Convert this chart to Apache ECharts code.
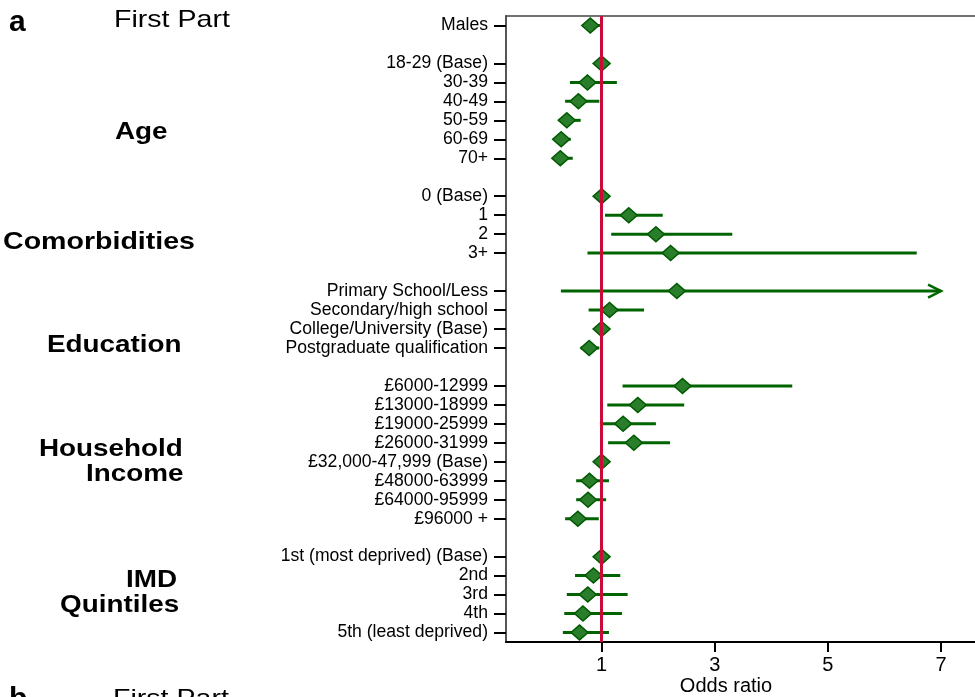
<!DOCTYPE html>
<html>
<head>
<meta charset="utf-8">
<script src="https://cdn.jsdelivr.net/npm/echarts@6/dist/echarts.min.js"></script>
<style>
html,body{margin:0;padding:0;background:#fff;}
#chart{width:975px;height:697px;}
</style>
</head>
<body>
<div id="chart"></div>
<script>
// ---- data (top to bottom) ----
const categories = [
  'Males', '',
  '18-29 (Base)', '30-39', '40-49', '50-59', '60-69', '70+', '',
  '0 (Base)', '1', '2', '3+', '',
  'Primary School/Less', 'Secondary/high school', 'College/University (Base)', 'Postgraduate qualification', '',
  '£6000-12999', '£13000-18999', '£19000-25999', '£26000-31999', '£32,000-47,999 (Base)', '£48000-63999', '£64000-95999', '£96000 +', '',
  '1st (most deprived) (Base)', '2nd', '3rd', '4th', '5th (least deprived)'
];
const oddsRatio = [
  0.80, null,
  1.00, 0.75, 0.59, 0.385, 0.285, 0.27, null,
  1.00, 1.48, 1.96, 2.22, null,
  2.33, 1.14, 1.00, 0.78, null,
  2.43, 1.64, 1.38, 1.57, 1.00, 0.785, 0.76, 0.58, null,
  1.00, 0.855, 0.755, 0.67, 0.61
];
const ciLower = [
  0.66, null,
  null, 0.44, 0.355, 0.24, 0.18, 0.15, null,
  null, 1.06, 1.17, 0.75, null,
  0.28, 0.77, null, 0.63, null,
  1.37, 1.10, 0.97, 1.115, null, 0.55, 0.55, 0.355, null,
  null, 0.53, 0.385, 0.34, 0.315
];
const ciUpper = [
  0.97, null,
  null, 1.27, 0.96, 0.63, 0.455, 0.49, null,
  null, 2.08, 3.31, 6.57, null,
  7.0, 1.75, null, 0.96, null,
  4.37, 2.46, 1.96, 2.21, null, 1.13, 1.08, 0.95, null,
  null, 1.33, 1.46, 1.36, 1.13
];
const clippedRows = ['Primary School/Less'];   // upper CI beyond the axis (drawn with arrow)
const xTicks = [1, 3, 5, 7];
const referenceValue = 1;

// unique blank names for spacer rows
let blankCount = 0;
const axisCats = categories.map(c => c === '' ? ' '.repeat(++blankCount) : c);

const pointData = [];
const ciData = [];
categories.forEach((c, i) => {
  if (oddsRatio[i] != null) pointData.push([oddsRatio[i], i]);
  if (ciLower[i] != null && ciUpper[i] != null) {
    ciData.push([i, ciLower[i], ciUpper[i], clippedRows.includes(c) ? 1 : 0]);
  }
});

const GREEN = '#006400';
const FONT = '"Liberation Sans", Arial, sans-serif';
const X_MIN = -0.69, X_MAX = 7.6;

const chart = echarts.init(document.getElementById('chart'), null, {renderer: 'canvas'});

function sideText(text, x, y, opts) {
  return {
    type: 'text', x: x, y: y, scaleX: opts.scaleX || 1,
    style: {
      text: text, fill: '#000',
      font: (opts.bold ? 'bold ' : '') + opts.size + 'px ' + FONT,
      textAlign: 'left', textVerticalAlign: opts.va || 'middle'
    }
  };
}

chart.setOption({
  backgroundColor: '#ffffff',
  animation: false,
  grid: {left: 506, top: 16, right: 0, height: 626, show: false},
  xAxis: [
    {
      type: 'value', min: X_MIN, max: X_MAX, position: 'bottom',
      axisLine: {show: true, onZero: false, lineStyle: {color: '#000', width: 2}},
      axisTick: {show: true, customValues: xTicks, length: 10, lineStyle: {color: '#000', width: 2}},
      axisLabel: {customValues: xTicks, color: '#000', fontSize: 20, fontFamily: FONT, margin: 13},
      splitLine: {show: false}
    },
    {
      type: 'value', min: X_MIN, max: X_MAX, position: 'top',
      axisLine: {show: true, onZero: false, lineStyle: {color: '#444', width: 1.5}},
      axisTick: {show: false}, axisLabel: {show: false}, splitLine: {show: false}
    }
  ],
  yAxis: {
    type: 'category', data: axisCats, inverse: true,
    axisLine: {show: true, onZero: false, lineStyle: {color: '#555', width: 2}},
    axisTick: {
      show: true, alignWithLabel: true, length: 12,
      interval: (idx, val) => String(val).trim() !== '',
      lineStyle: {color: '#000', width: 2}
    },
    axisLabel: {interval: 0, color: '#000', fontSize: 17.6, fontFamily: FONT, margin: 18, padding: [3, 0, 0, 0]},
    splitLine: {show: false}
  },
  series: [
    {
      type: 'custom', z: 2,
      data: ciData,
      encode: {x: [1, 2], y: 0},
      renderItem: function (params, api) {
        const row = api.value(0);
        const lo = api.coord([api.value(1), row]);
        const hi = api.coord([api.value(2), row]);
        const children = [{
          type: 'line',
          shape: {x1: lo[0], y1: lo[1], x2: hi[0], y2: hi[1]},
          style: {stroke: GREEN, lineWidth: 3}
        }];
        if (api.value(3)) {
          children.push({
            type: 'polyline',
            shape: {points: [[hi[0] - 13, hi[1] - 6.5], [hi[0], hi[1]], [hi[0] - 13, hi[1] + 6.5]]},
            style: {stroke: GREEN, lineWidth: 2.5, fill: null}
          });
        }
        return {type: 'group', children: children};
      }
    },
    {
      type: 'scatter', z: 3, data: [],
      markLine: {
        silent: true, symbol: 'none', animation: false,
        label: {show: false},
        lineStyle: {color: '#cc0a3a', width: 3, type: 'solid'},
        data: [{xAxis: referenceValue}]
      }
    },
    {
      type: 'scatter', z: 4,
      data: pointData,
      symbol: 'diamond', symbolSize: [17, 15],
      itemStyle: {color: '#2a7d2a', borderColor: '#005a00', borderWidth: 1.5, opacity: 1}
    }
  ],
  graphic: [
    sideText('a', 9, 23, {size: 30, bold: true}),
    sideText('First Part', 114, 20.5, {size: 24, scaleX: 1.19}),
    sideText('Age', 115, 132.5, {size: 24, bold: true, scaleX: 1.16}),
    sideText('Comorbidities', 3, 242.5, {size: 24, bold: true, scaleX: 1.19}),
    sideText('Education', 47, 345.5, {size: 24, bold: true, scaleX: 1.16}),
    sideText('Household', 39, 449.5, {size: 24, bold: true, scaleX: 1.16}),
    sideText('Income', 86, 474.5, {size: 24, bold: true, scaleX: 1.16}),
    sideText('IMD', 126, 580.5, {size: 24, bold: true, scaleX: 1.16}),
    sideText('Quintiles', 60, 605.5, {size: 24, bold: true, scaleX: 1.16}),
    sideText('b', 9, 685, {size: 30, bold: true, va: 'top'}),
    sideText('First Part', 113, 687, {size: 24, scaleX: 1.19, va: 'top'}),
    {
      type: 'text', x: 726, y: 686,
      style: {text: 'Odds ratio', fill: '#000', font: '20px ' + FONT, textAlign: 'center', textVerticalAlign: 'middle'}
    }
  ]
});
</script>
</body>
</html>
